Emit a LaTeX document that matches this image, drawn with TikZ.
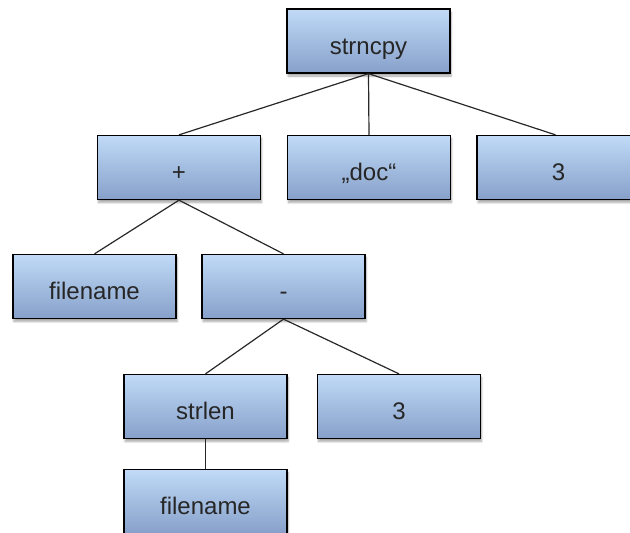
\documentclass[tikz,border=0pt]{standalone}
\usepackage{fontspec}
\setmainfont{Liberation Sans}
\usetikzlibrary{shadows.blur}
\definecolor{boxtop}{RGB}{192,218,247}
\definecolor{boxbot}{RGB}{134,160,202}
\definecolor{edgecol}{RGB}{40,40,40}
\tikzset{
  treebox/.style={draw=black, line width=1.3pt, rectangle,
    minimum width=163pt, minimum height=64pt, inner sep=0pt,
    text height=26pt, text depth=0pt,
    top color=boxtop, bottom color=boxbot,
    blur shadow={shadow xshift=1pt, shadow yshift=-3pt, shadow blur steps=6, shadow opacity=35},
    font=\fontsize{24}{28}\selectfont, text=black!85},
  treeedge/.style={draw=edgecol, line width=1.2pt}
}
\begin{document}
\begin{tikzpicture}[x=1pt, y=-1pt]
  \useasboundingbox (0,0) rectangle (630,533);
  % level 0
  \node[treebox] (root) at (368.5,41) {strncpy};
  % level 1
  \node[treebox] (plus) at (179,167.5) {+};
  \node[treebox] (doc)  at (369,167.5) {„doc“};
  \node[treebox] (three1) at (558.5,167.5) {3};
  % level 2
  \node[treebox] (fname1) at (94.5,286.5) {filename};
  \node[treebox] (minus)  at (283.5,286.5) {-};
  % level 3
  \node[treebox] (strlen) at (205.5,406.5) {strlen};
  \node[treebox] (three2) at (399,406.5) {3};
  % level 4
  \node[treebox] (fname2) at (205.5,501.5) {filename};
  % connectors
  \draw[treeedge] (root.south) -- (plus.north);
  \draw[treeedge] (root.south) -- (doc.north);
  \draw[treeedge] (root.south) -- ([xshift=-3pt]three1.north);
  \draw[treeedge] (plus.south) -- (fname1.north);
  \draw[treeedge] (plus.south) -- (minus.north);
  \draw[treeedge] (minus.south) -- (strlen.north);
  \draw[treeedge] (minus.south) -- (three2.north);
  \draw[treeedge] (strlen.south) -- (fname2.north);
\end{tikzpicture}
\end{document}
